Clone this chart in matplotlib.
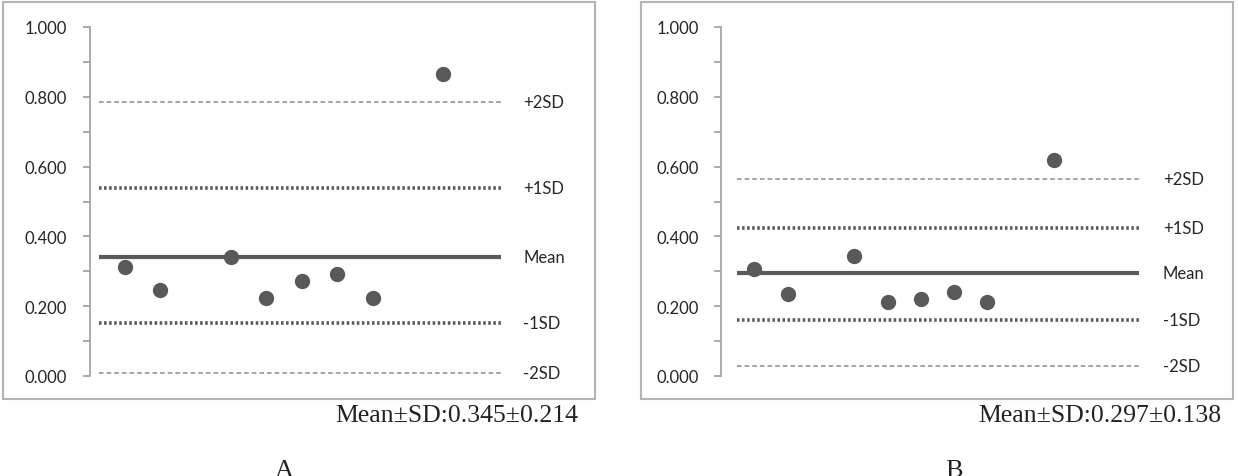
import numpy as np
import matplotlib
matplotlib.use('Agg')
import matplotlib.pyplot as plt
from matplotlib.patches import Rectangle
from matplotlib.ticker import MultipleLocator, FormatStrFormatter

# sample positions (gaps at 3 and 9 are empty in the original)
x_pos = [1, 2, 4, 5, 6, 7, 8, 10]

a_vals = [0.312, 0.245, 0.341, 0.224, 0.273, 0.293, 0.224, 0.866]
b_vals = [0.306, 0.236, 0.343, 0.213, 0.222, 0.242, 0.213, 0.620]

line_labels = ['+2SD', '+1SD', 'Mean', '-1SD', '-2SD']
a_lines = [0.784, 0.540, 0.340, 0.153, 0.008]
b_lines = [0.565, 0.425, 0.296, 0.161, 0.028]

a_summary = 'Mean±SD:0.345±0.214'
b_summary = 'Mean±SD:0.297±0.138'
panel_names = ['A', 'B']

W, H = 1238, 477
fig = plt.figure(figsize=(W / 100, H / 100), dpi=100)

dark = '#595959'
grey = '#a6a6a6'
txt = '#262626'

line_styles = {
    '+2SD': dict(ls=(0, (3, 2)), lw=1.1, color='#8c8c8c'),
    '-2SD': dict(ls=(0, (3, 2)), lw=1.1, color='#8c8c8c'),
    '+1SD': dict(ls=(0, (0.7, 0.7)), lw=2.6, color=dark),
    '-1SD': dict(ls=(0, (0.7, 0.7)), lw=2.6, color=dark),
    'Mean': dict(ls='-', lw=3.0, color=dark),
}

# pixel layout per panel: frame, axis x, px per unit, line extent, label x, text
panels = [
    dict(frame=(3, 595), ax_left=89.5, unit=35.4, span=(0.27, 11.62), lab_x=12.25,
         vals=a_vals, lines=a_lines, summary=a_summary, sum_right=578, name_x=284),
    dict(frame=(641, 1233), ax_left=721, unit=33.3, span=(0.48, 12.55), lab_x=13.27,
         vals=b_vals, lines=b_lines, summary=b_summary, sum_right=1221, name_x=954),
]

y_top, y_bot = 28, 377
for p, name in zip(panels, panel_names):
    # outer chart frame
    fx0, fx1 = p['frame']
    fig.patches.append(Rectangle((fx0 / W, (H - 400) / H), (fx1 - fx0) / W, 397 / H,
                                 transform=fig.transFigure, fill=False,
                                 edgecolor='#b4b4b4', lw=1.5))

    xmax = 14
    ax = fig.add_axes([p['ax_left'] / W, (H - y_bot) / H, xmax * p['unit'] / W,
                       (y_bot - y_top) / H])
    ax.set_xlim(0, xmax)
    ax.set_ylim(0, 1)
    ax.patch.set_alpha(0)
    for s in ['top', 'right', 'bottom']:
        ax.spines[s].set_visible(False)
    ax.spines['left'].set_color(grey)
    ax.spines['left'].set_linewidth(1.3)
    ax.set_xticks([])
    ax.yaxis.set_major_locator(MultipleLocator(0.2))
    ax.yaxis.set_minor_locator(MultipleLocator(0.1))
    ax.yaxis.set_major_formatter(FormatStrFormatter('%.3f'))
    ax.tick_params(axis='y', which='both', direction='out', length=5, width=1.3,
                   color=grey, labelcolor=txt, labelsize=12, pad=11)
    for lab in ax.get_yticklabels():
        lab.set_family('Lato')

    x0, x1 = p['span']
    for lbl, val in zip(line_labels, p['lines']):
        ax.plot([x0, x1], [val, val], solid_capstyle='butt',
                dash_capstyle='butt', **line_styles[lbl])
        ax.text(p['lab_x'], val, lbl, family='Lato', fontsize=12, color=txt,
                va='center', ha='left', clip_on=False)

    ax.plot(x_pos, p['vals'], 'o', ms=10, color=dark, mec=dark, zorder=5,
            clip_on=False)

    fig.text(p['sum_right'] / W, (H - 416) / H, p['summary'],
             family='Liberation Serif', fontsize=18.5, color='#222222',
             ha='right', va='center')
    fig.text(p['name_x'] / W, (H - 460) / H, name, family='Liberation Serif',
             fontsize=19, color='#222222', ha='center', va='top')

fig.savefig('out.png', dpi=100)
